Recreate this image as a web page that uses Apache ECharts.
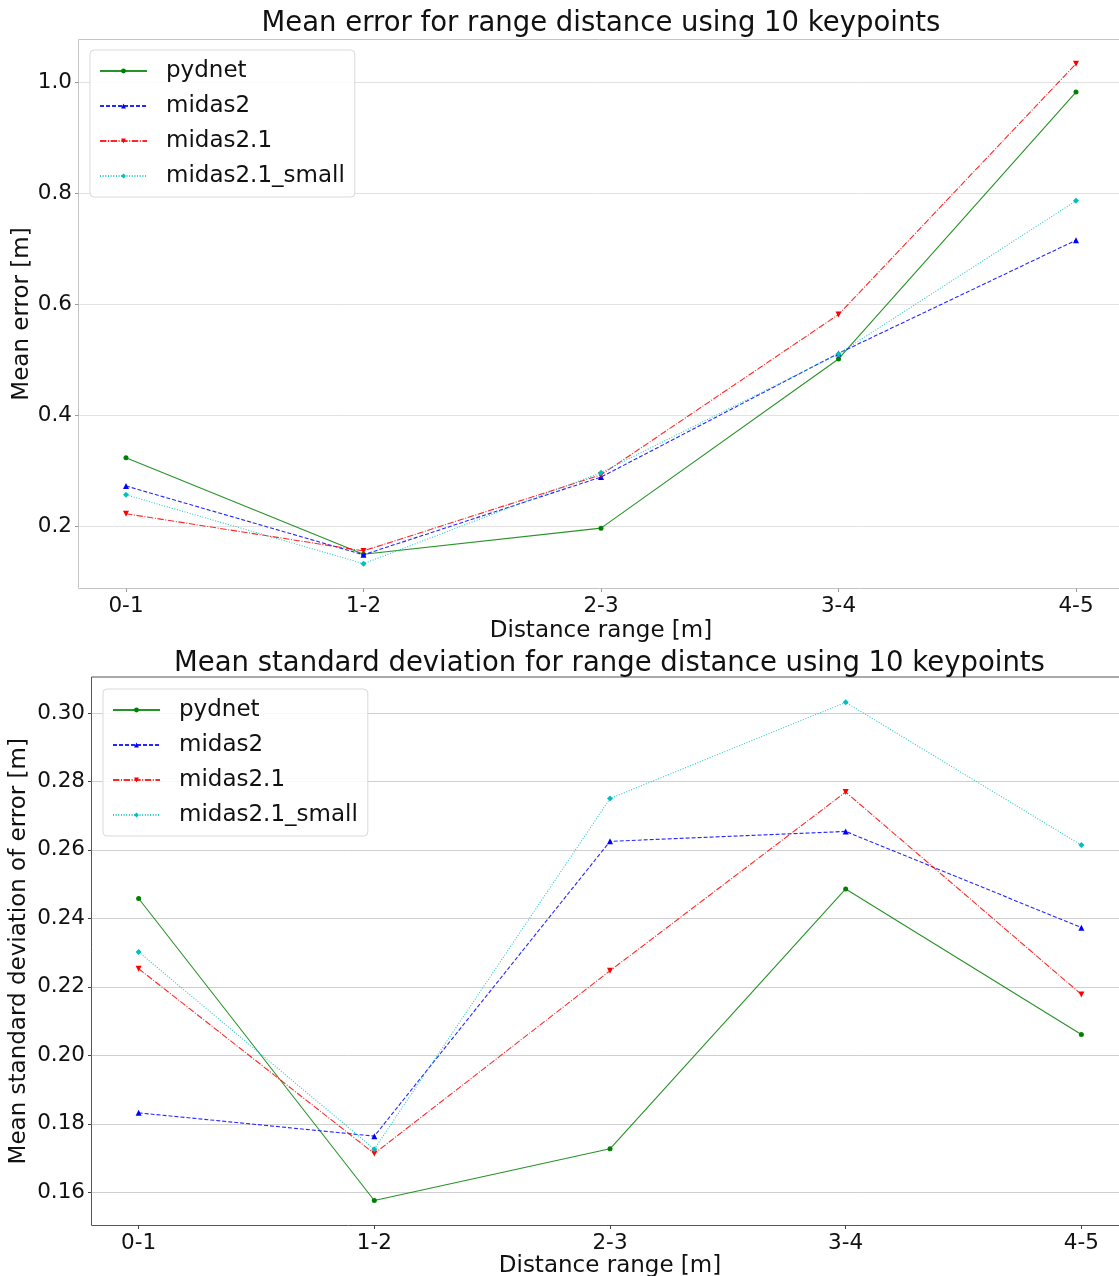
<!DOCTYPE html>
<html>
<head>
<meta charset="utf-8">
<script src="https://cdn.jsdelivr.net/npm/echarts@6/dist/echarts.min.js"></script>
<style>
html,body{margin:0;padding:0;background:#fff;}
#chart{width:1119px;height:1276px;}
</style>
</head>
<body>
<div id="chart"></div>
<script>
// ---- data ----
const categories = ['0-1', '1-2', '2-3', '3-4', '4-5'];
const seriesNames = ['pydnet', 'midas2', 'midas2.1', 'midas2.1_small'];

// Mean error [m]
const errPydnet = [0.323, 0.149, 0.196, 0.501, 0.982];
const errMidas2 = [0.272, 0.148, 0.288, 0.511, 0.715];
const errMidas21 = [0.222, 0.155, 0.292, 0.581, 1.033];
const errMidas21Small = [0.256, 0.132, 0.296, 0.510, 0.786];

// Mean standard deviation of error [m]
const stdPydnet = [0.2458, 0.1576, 0.1727, 0.2486, 0.2061];
const stdMidas2 = [0.1832, 0.1764, 0.2625, 0.2654, 0.2373];
const stdMidas21 = [0.2253, 0.1713, 0.2247, 0.2769, 0.2178];
const stdMidas21Small = [0.2302, 0.1726, 0.2750, 0.3031, 0.2614];

const errTicks = [0.2, 0.4, 0.6, 0.8, 1.0];
const stdTicks = [0.16, 0.18, 0.20, 0.22, 0.24, 0.26, 0.28, 0.30];
const xTicks = [0, 1, 2, 3, 4];

// ---- styling ----
const FONT = 'DejaVu Sans';
const styles = [
  {color: '#008000', dash: 'solid', symbol: 'circle', size: 5, rot: 0},
  {color: '#0000ff', dash: [4, 2], symbol: 'triangle', size: 6, rot: 0},
  {color: '#ff0000', dash: [6.4, 1.6, 1, 1.6], symbol: 'triangle', size: 6, rot: 180},
  {color: '#00bfbf', dash: [1, 1.65], symbol: 'path://M0,-1L1,0L0,1L-1,0Z', size: 6, rot: 0}
];

function toPairs(arr) { return arr.map((v, i) => [i, v]); }

function makeSeries(dataArrs, gridIdx) {
  return dataArrs.map((arr, k) => ({
    name: seriesNames[k],
    type: 'line',
    xAxisIndex: gridIdx,
    yAxisIndex: gridIdx,
    data: toPairs(arr),
    symbol: styles[k].symbol,
    symbolSize: styles[k].size,
    symbolRotate: styles[k].rot,
    showSymbol: true,
    animation: false,
    z: 3 + k,
    itemStyle: {color: styles[k].color},
    lineStyle: {color: styles[k].color, width: 1.1, type: styles[k].dash, opacity: 0.85},
    emphasis: {disabled: true}
  }));
}

function xAxisDef(gridIdx, tickColor, labelGap) {
  return {
    type: 'value', gridIndex: gridIdx, min: -0.2, max: 4.2,
    axisLine: {show: false, onZero: false},
    axisTick: {show: true, length: 3.5, inside: false, customValues: xTicks, lineStyle: {color: tickColor}},
    axisLabel: {customValues: xTicks, margin: 7, fontFamily: FONT, fontSize: 21.5, color: '#111',
      formatter: v => categories[Math.round(v)]},
    splitLine: {show: false},
    name: 'Distance range [m]', nameLocation: 'middle', nameGap: labelGap, nameMoveOverlap: false,
    nameTextStyle: {fontFamily: FONT, fontSize: 23, color: '#111'}
  };
}

function yAxisDef(gridIdx, min, max, ticks, digits, name, gap, tickColor, gridColor) {
  return {
    type: 'value', gridIndex: gridIdx, min: min, max: max,
    axisLine: {show: false, onZero: false},
    axisTick: {show: true, length: 3.5, customValues: ticks, lineStyle: {color: tickColor}},
    axisLabel: {customValues: ticks, margin: 6.5, fontFamily: FONT, fontSize: 21.5, color: '#111',
      formatter: v => v.toFixed(digits)},
    splitLine: {show: true, lineStyle: {color: gridColor, width: 1}},
    name: name, nameLocation: 'middle', nameRotate: 90, nameGap: gap, nameMoveOverlap: false,
    nameTextStyle: {fontFamily: FONT, fontSize: 23, color: '#111'}
  };
}

function legendDef(left, top) {
  return {
    orient: 'vertical', left: left, top: top,
    data: seriesNames,
    itemWidth: 47, itemHeight: 6, itemGap: 11,
    padding: [9, 10, 9, 9],
    borderColor: '#d9d9d9', borderWidth: 1, borderRadius: 4,
    backgroundColor: 'rgba(255,255,255,0.85)',
    selectedMode: false,
    textStyle: {fontFamily: FONT, fontSize: 23, color: '#111', lineHeight: 24, padding: [0, 0, 0, 14]}
  };
}

const chart = echarts.init(document.getElementById('chart'), null, {renderer: 'canvas'});
const option = {
  backgroundColor: '#fff',
  animation: false,
  grid: [
    {left: 78.5, top: 39.5, width: 1045, height: 549, show: true, borderColor: '#c4c4c4', borderWidth: 1,
     backgroundColor: 'transparent', containLabel: false, outerBoundsMode: 'none'},
    {left: 91.5, top: 677, width: 1037, height: 548.5, show: true, borderColor: '#555', borderWidth: 1,
     backgroundColor: 'transparent', containLabel: false, outerBoundsMode: 'none'}
  ],
  xAxis: [xAxisDef(0, '#999', 31), xAxisDef(1, '#444', 29)],
  yAxis: [
    yAxisDef(0, 0.0872, 1.0768, errTicks, 1, 'Mean error [m]', 45, '#999', '#e2e2e2'),
    yAxisDef(1, 0.1503, 0.3105, stdTicks, 2, 'Mean standard deviation of error [m]', 61, '#444', '#cfcfcf')
  ],
  legend: [legendDef(90, 50), legendDef(103, 689)],
  graphic: [
    {type: 'text', x: 601, y: 24, style: {text: 'Mean error for range distance using 10 keypoints',
      font: '27.5px "DejaVu Sans"', fill: '#111', textAlign: 'center', textVerticalAlign: 'middle'}},
    {type: 'text', x: 609.5, y: 664, style: {text: 'Mean standard deviation for range distance using 10 keypoints',
      font: '27.5px "DejaVu Sans"', fill: '#111', textAlign: 'center', textVerticalAlign: 'middle'}}
  ],
  series: [
    ...makeSeries([errPydnet, errMidas2, errMidas21, errMidas21Small], 0),
    ...makeSeries([stdPydnet, stdMidas2, stdMidas21, stdMidas21Small], 1)
  ]
};
chart.setOption(option);
</script>
</body>
</html>
